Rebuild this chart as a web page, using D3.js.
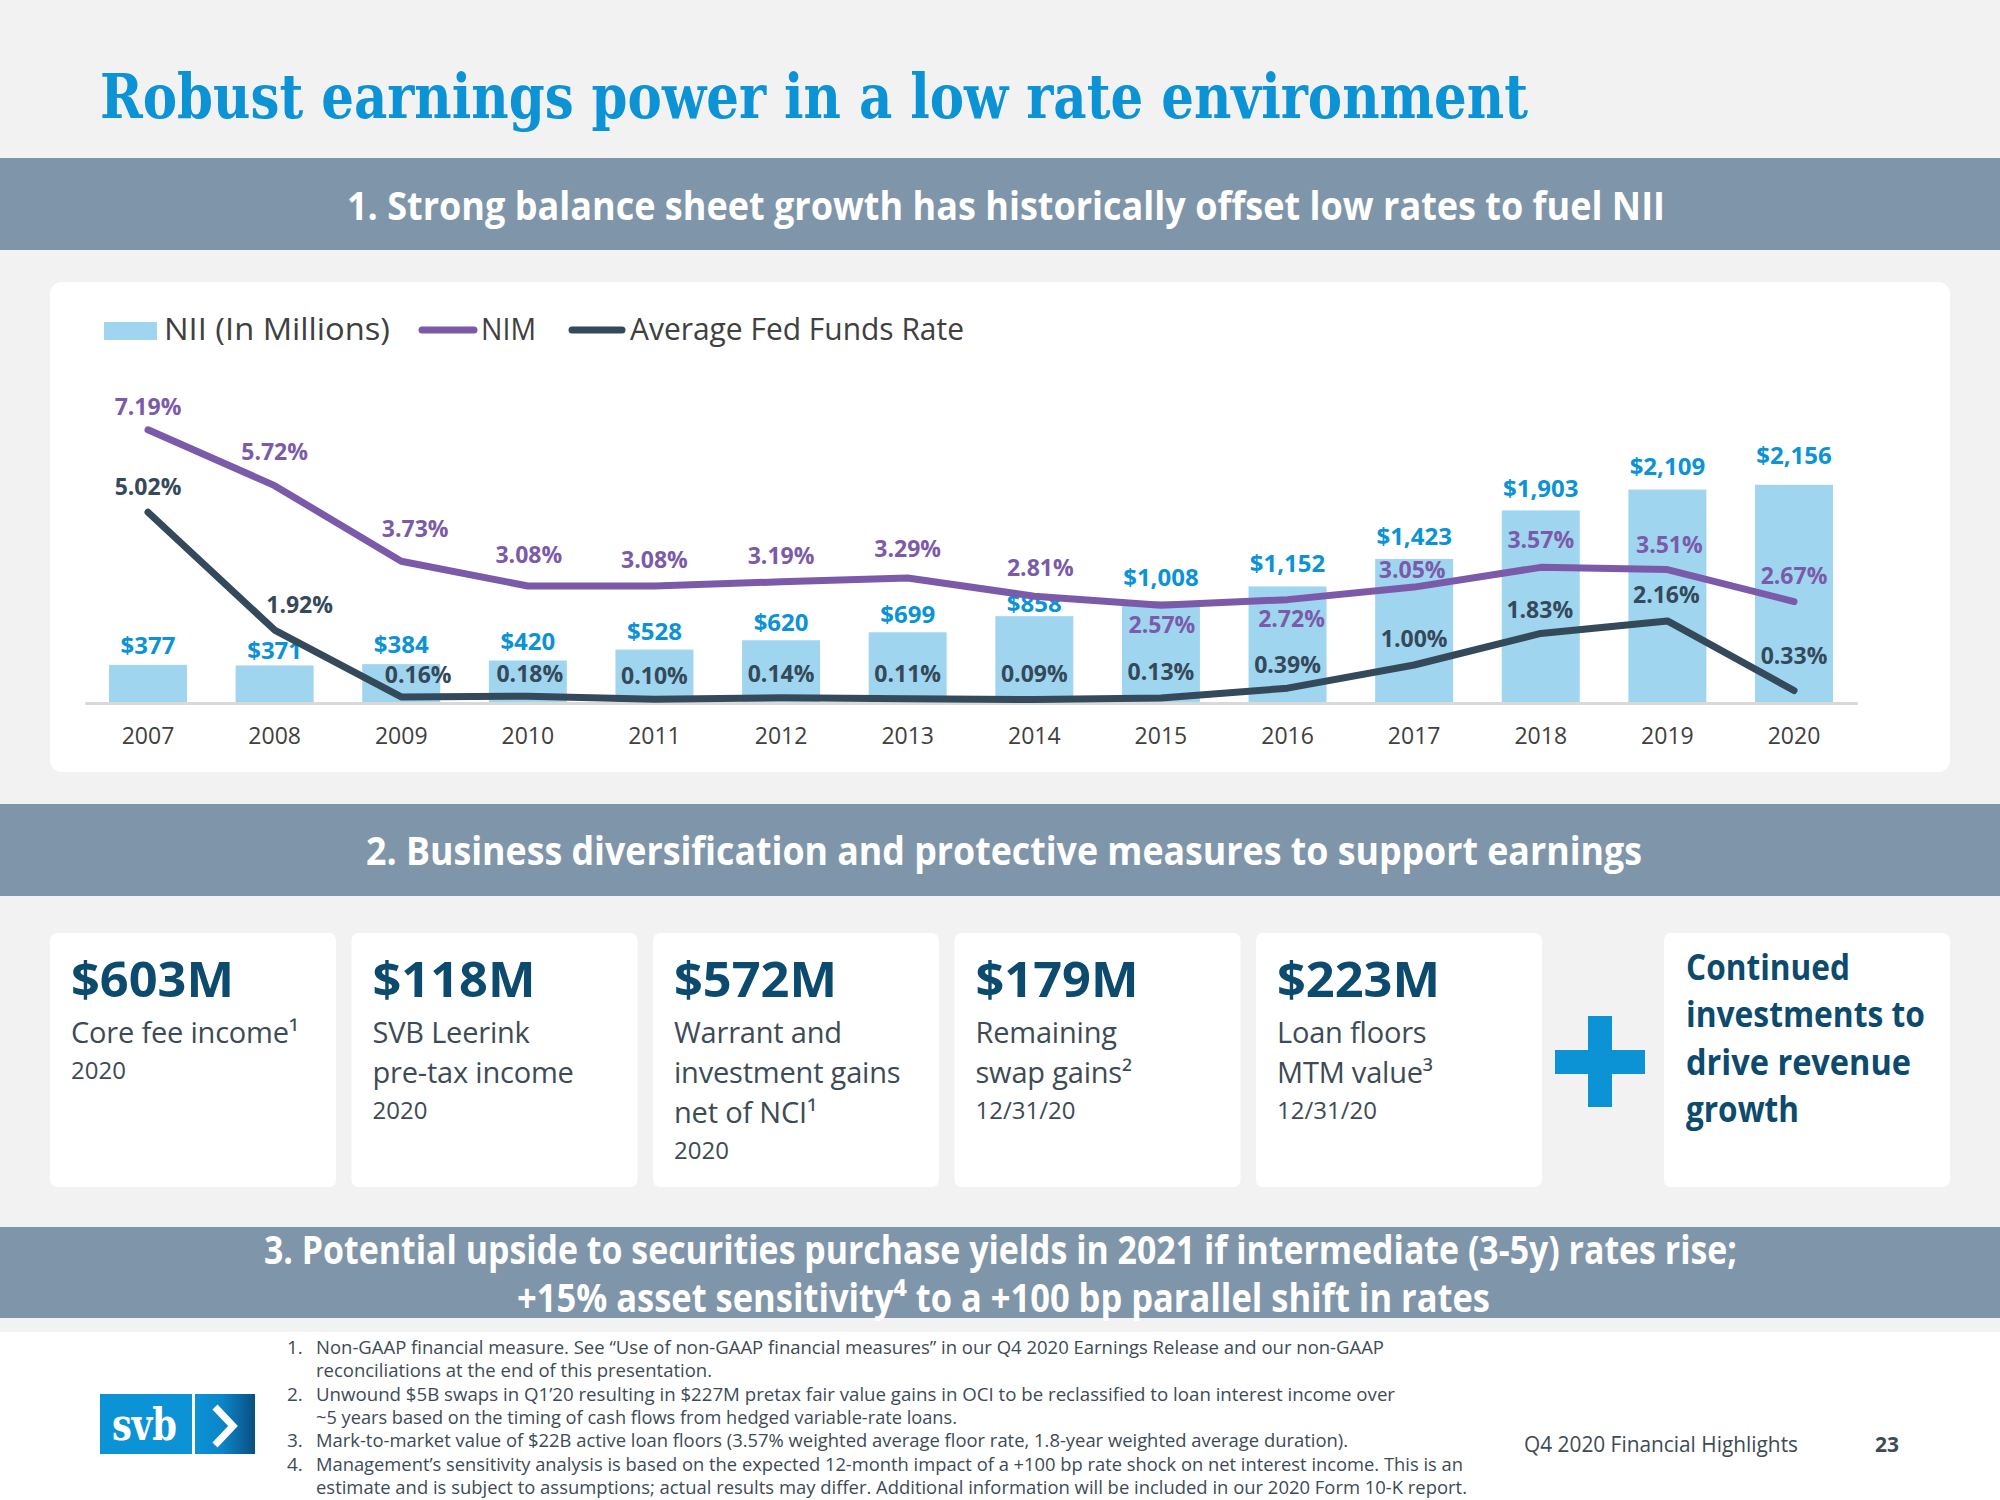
<!DOCTYPE html>
<html><head><meta charset="utf-8">
<script src="https://cdn.jsdelivr.net/npm/d3@7"></script>
<style>html,body{margin:0;padding:0;background:#f2f2f2;} svg{display:block;}</style>
</head><body>
<svg id="c" width="2000" height="1500"></svg>
<script>
// ---------- data ----------
const years = ["2007","2008","2009","2010","2011","2012","2013","2014","2015","2016","2017","2018","2019","2020"];
const nii = [377,371,384,420,528,620,699,858,1008,1152,1423,1903,2109,2156];
const nim = [7.19,5.72,3.73,3.08,3.08,3.19,3.29,2.81,2.57,2.72,3.05,3.57,3.51,2.67];
const fed = [5.02,1.92,0.16,0.18,0.10,0.14,0.11,0.09,0.13,0.39,1.00,1.83,2.16,0.33];
const seriesNames = ["NII (In Millions)","NIM","Average Fed Funds Rate"];

const cardValues = ["$603M","$118M","$572M","$179M","$223M"];
const cardLines = [["Core fee income¹"],["SVB Leerink","pre-tax income"],["Warrant and","investment gains","net of NCI¹"],["Remaining","swap gains²"],["Loan floors","MTM value³"]];
const cardDates = ["2020","2020","2020","12/31/20","12/31/20"];
const growthLines = ["Continued","investments to","drive revenue","growth"];

const titleText = "Robust earnings power in a low rate environment";
const banner1 = "1. Strong balance sheet growth has historically offset low rates to fuel NII";
const banner2 = "2. Business diversification and protective measures to support earnings";
const banner3a = "3. Potential upside to securities purchase yields in 2021 if intermediate (3-5y) rates rise;";
const banner3b = "+15% asset sensitivity⁴ to a +100 bp parallel shift in rates";
const footnotes = [
 ["1.","Non-GAAP financial measure.  See “Use of non-GAAP financial measures” in our Q4 2020 Earnings Release and our non-GAAP"],
 ["","reconciliations at the end of this presentation."],
 ["2.","Unwound $5B swaps in Q1’20 resulting in $227M pretax fair value gains in OCI to be reclassified to loan interest income over"],
 ["","~5 years based on the timing of cash flows from hedged variable-rate loans."],
 ["3.","Mark-to-market value of $22B active loan floors (3.57% weighted average floor rate, 1.8-year weighted average duration)."],
 ["4.","Management’s sensitivity analysis is based on the expected 12-month impact of a +100 bp rate shock on net interest income. This is an"],
 ["","estimate and is subject to assumptions; actual results may differ. Additional information will be included in our 2020 Form 10-K report."]
];
const footerText = "Q4 2020 Financial Highlights";
const pageNum = "23";

// ---------- layout (label nudges, widths) ----------
const niiDy = [-11,-6,-11,-10,-10,-9,-9,-4,-15,-14,-14,-13,-15,-21];
const nimDx = [0,0,14,1,0,0,0,6,1,4,-2,0,2,0];
const nimDy = [-15,-26,-24,-23,-18,-18,-21,-20,28,27,-9,-19,-17,-18];
const fedDx = [0,25,17,2,0,0,0,0,0,0,0,-1,-1,0];
const fedDy = [-17,-17,-14,-14,-15,-16,-17,-18,-18,-15,-18,-15,-18,-26];
const footEnds = [1384,712,1395,957,1348,1463,1467];
const growthW = [164,239,225,113];

const C = {bg:"#f2f2f2", blue:"#0b93d6", banner:"#7f96aa", bar:"#9fd5ef", nim:"#7b5ba9", fed:"#34495a",
  navy:"#0c4a6e", gray:"#3d4b56", axis:"#404040"};
const SANS = "'Open Sans', 'Noto Sans', sans-serif";

const svg = d3.select("#c");
function fit(sel, w){ return sel.attr("textLength", w).attr("lengthAdjust","spacingAndGlyphs"); }

// backgrounds
svg.append("rect").attr("x",0).attr("y",0).attr("width",2000).attr("height",1332).attr("fill",C.bg);
svg.append("rect").attr("x",0).attr("y",1332).attr("width",2000).attr("height",168).attr("fill","#ffffff");

// title
fit(svg.append("text").attr("x",100).attr("y",118).attr("font-family","'DejaVu Serif', serif")
  .attr("font-weight","bold").attr("font-size",62).attr("fill",C.blue).text(titleText), 1428);

// banners
function banner(y0,y1){ svg.append("rect").attr("x",0).attr("y",y0).attr("width",2000).attr("height",y1-y0).attr("fill",C.banner); }
function bannerText(t,x0,x1,y,fs){
  fit(svg.append("text").attr("x",x0).attr("y",y).attr("font-family",SANS).attr("font-weight","bold")
   .attr("font-size",fs).attr("fill","#ffffff").text(t), x1-x0);
}
banner(158,250); bannerText(banner1,347,1665,220,40);
banner(804,896); bannerText(banner2,366,1642,865,40);
banner(1227,1318); bannerText(banner3a,264,1737,1264,39); bannerText(banner3b,517,1490,1312,39);

// chart card
svg.append("rect").attr("x",50).attr("y",282).attr("width",1900).attr("height",490).attr("rx",12).attr("fill","#ffffff");

// scales
const x = d3.scaleBand().domain(years).range([84.7,1857.3]).paddingInner(0.384).paddingOuter(0.192);
const yN = d3.scaleLinear().domain([0,2500]).range([703,450]);
const yP = d3.scaleLinear().domain([0,8]).range([703,399]);
const cx = d => x(d) + x.bandwidth()/2;

// legend
const lg = svg.append("g");
lg.append("rect").attr("x",104).attr("y",322).attr("width",53).attr("height",18).attr("fill",C.bar);
fit(lg.append("text").attr("x",164).attr("y",340).attr("font-family",SANS).attr("font-size",31).attr("fill",C.axis).text(seriesNames[0]),226);
lg.append("line").attr("x1",422).attr("x2",474).attr("y1",330).attr("y2",330).attr("stroke",C.nim).attr("stroke-width",7).attr("stroke-linecap","round");
fit(lg.append("text").attr("x",481).attr("y",340).attr("font-family",SANS).attr("font-size",31).attr("fill",C.axis).text(seriesNames[1]),55);
lg.append("line").attr("x1",572).attr("x2",622).attr("y1",330).attr("y2",330).attr("stroke",C.fed).attr("stroke-width",7).attr("stroke-linecap","round");
fit(lg.append("text").attr("x",630).attr("y",340).attr("font-family",SANS).attr("font-size",31).attr("fill",C.axis).text(seriesNames[2]),334);

// bars
svg.append("g").selectAll("rect").data(years).join("rect")
  .attr("x",d=>x(d)).attr("width",x.bandwidth())
  .attr("y",(d,i)=>yN(nii[i])).attr("height",(d,i)=>yN(0)-yN(nii[i])).attr("fill",C.bar);

// axis
const ax = svg.append("g").attr("transform","translate(0,703)")
  .call(d3.axisBottom(x).tickSize(0).tickPadding(25));
ax.select(".domain").attr("stroke","#d9d9d9").attr("stroke-width",3);
ax.selectAll("text").attr("font-family",SANS).attr("font-size",23).attr("fill",C.axis);

// NII labels
svg.append("g").selectAll("text").data(years).join("text")
  .attr("x",d=>cx(d)).attr("y",(d,i)=>yN(nii[i])+niiDy[i]).attr("text-anchor","middle")
  .attr("font-family",SANS).attr("font-weight","bold").attr("font-size",24).attr("fill",C.blue)
  .text((d,i)=>"$"+d3.format(",")(nii[i]));

// lines
const line = d3.line().x((d,i)=>cx(years[i])).y(d=>yP(d));
svg.append("path").datum(fed).attr("d",line).attr("fill","none").attr("stroke",C.fed)
  .attr("stroke-width",7).attr("stroke-linecap","round").attr("stroke-linejoin","round");
svg.append("path").datum(nim).attr("d",line).attr("fill","none").attr("stroke",C.nim)
  .attr("stroke-width",7).attr("stroke-linecap","round").attr("stroke-linejoin","round");

// pct labels
const pf = d3.format(".2f");
svg.append("g").selectAll("text").data(years).join("text")
  .attr("x",(d,i)=>cx(d)+nimDx[i]).attr("y",(d,i)=>yP(nim[i])+nimDy[i]).attr("text-anchor","middle")
  .attr("font-family",SANS).attr("font-weight","bold").attr("font-size",23).attr("fill",C.nim)
  .text((d,i)=>pf(nim[i])+"%");
svg.append("g").selectAll("text").data(years).join("text")
  .attr("x",(d,i)=>cx(d)+fedDx[i]).attr("y",(d,i)=>yP(fed[i])+fedDy[i]).attr("text-anchor","middle")
  .attr("font-family",SANS).attr("font-weight","bold").attr("font-size",23).attr("fill",C.fed)
  .text((d,i)=>pf(fed[i])+"%");

// cards
cardValues.forEach((v,i)=>{
  const x0 = 50 + i*301.5;
  const g = svg.append("g");
  g.append("rect").attr("x",x0).attr("y",933).attr("width",286).attr("height",254).attr("rx",7).attr("fill","#ffffff");
  fit(g.append("text").attr("x",x0+21).attr("y",997).attr("font-family",SANS).attr("font-weight","bold")
    .attr("font-size",49).attr("fill",C.navy).text(v), 163);
  cardLines[i].forEach((t,j)=>{
    g.append("text").attr("x",x0+21).attr("y",1043+j*40).attr("font-family",SANS).attr("font-size",29)
      .attr("fill",C.gray).attr("letter-spacing",-0.2).text(t);
  });
  g.append("text").attr("x",x0+21).attr("y",1043+(cardLines[i].length-1)*40+36).attr("font-family",SANS)
    .attr("font-size",24).attr("fill",C.gray).text(cardDates[i]);
});
// plus sign
svg.append("rect").attr("x",1588).attr("y",1016).attr("width",24).attr("height",91).attr("fill",C.blue);
svg.append("rect").attr("x",1555).attr("y",1050).attr("width",90).attr("height",24).attr("fill",C.blue);
// last card
svg.append("rect").attr("x",1664).attr("y",933).attr("width",286).attr("height",254).attr("rx",7).attr("fill","#ffffff");
growthLines.forEach((t,j)=>{
  fit(svg.append("text").attr("x",1686).attr("y",980+j*47.3).attr("font-family",SANS).attr("font-weight","bold")
    .attr("font-size",35).attr("fill",C.navy).text(t), growthW[j]);
});

// footnotes
footnotes.forEach((f,i)=>{
  const y = 1354 + i*23.3;
  if(f[0]) svg.append("text").attr("x",287).attr("y",y).attr("font-family",SANS).attr("font-size",19).attr("fill",C.gray).text(f[0]);
  fit(svg.append("text").attr("x",316).attr("y",y).attr("font-family",SANS).attr("font-size",19).attr("fill",C.gray).text(f[1]), footEnds[i]-316);
});

// footer
fit(svg.append("text").attr("x",1524).attr("y",1452).attr("font-family",SANS).attr("font-size",21).attr("fill",C.gray).text(footerText),274);
svg.append("text").attr("x",1875).attr("y",1452).attr("font-family",SANS).attr("font-weight","bold").attr("font-size",21).attr("fill",C.gray).text(pageNum);

// logo
const defs = svg.append("defs");
const gr = defs.append("linearGradient").attr("id","lg1").attr("x1","0").attr("x2","1").attr("y1","0").attr("y2","0");
gr.append("stop").attr("offset","0%").attr("stop-color","#0b93d6");
gr.append("stop").attr("offset","45%").attr("stop-color","#0b86c8");
gr.append("stop").attr("offset","100%").attr("stop-color","#0a4f80");
svg.append("rect").attr("x",100).attr("y",1394).attr("width",92).attr("height",60).attr("fill","#0b93d6");
svg.append("rect").attr("x",195).attr("y",1394).attr("width",60).attr("height",60).attr("fill","url(#lg1)");
fit(svg.append("text").attr("x",112).attr("y",1440).attr("font-family","'DejaVu Serif', serif").attr("font-weight","bold")
  .attr("font-size",44).attr("fill","#ffffff").text("svb"),65);
svg.append("polyline").attr("points","215,1407 233,1426 215,1445").attr("fill","none").attr("stroke","#ffffff")
  .attr("stroke-width",7).attr("stroke-linejoin","miter");
</script>
</body></html>
